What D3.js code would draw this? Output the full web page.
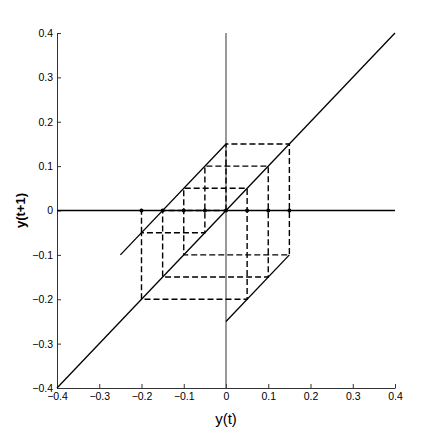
<!DOCTYPE html>
<html lang="en">
<head>
  <meta charset="UTF-8">
  <title>Cobweb - piecewise map</title>
  <script src="https://cdn.jsdelivr.net/npm/d3@7"></script>
  <style>
    body { margin: 0; background: #fff; }
    text { font-family: "Liberation Sans", Arial, sans-serif; }
    .tick text { font-size: 10.5px; }
  </style>
</head>
<body>
<div id="chart"></div>
<script>
  // tick values
  var xTicks = [-0.4, -0.3, -0.2, -0.1, 0, 0.1, 0.2, 0.3, 0.4];
  var yTicks = [-0.4, -0.3, -0.2, -0.1, 0, 0.1, 0.2, 0.3, 0.4];

  // map branches: y(t+1) = y(t)+0.15 for y<0, y(t)-0.25 for y>0
  var upperBranch = [[-0.25, -0.1], [0, 0.15]];
  var lowerBranch = [[0, -0.25], [0.15, -0.1]];
  var diagonal = [[-0.4, -0.4], [0.4, 0.4]];

  // periodic orbit visited by the cobweb
  var orbit = [0, 0.15, -0.1, 0.05, -0.2, -0.05, 0.1, -0.15, 0];

  // dots on y=0
  var dotsX = [-0.2, -0.15, -0.1, -0.05, 0, 0.05, 0.1, 0.15];

  var W = 436, H = 436;
  var margin = {top: 33, right: 41, bottom: 48, left: 57};

  var svg = d3.select("#chart").append("svg")
      .attr("width", W).attr("height", H);

  var x = d3.scaleLinear().domain([-0.4, 0.4]).range([margin.left, W - margin.right]);
  var y = d3.scaleLinear().domain([-0.4, 0.4]).range([H - margin.bottom, margin.top]);

  var fmt = function(d) { return d === 0 ? "0" : d3.format(".1f")(d).replace("-", "\u2212"); };

  // axes (MATLAB style, ticks inside)
  svg.append("g")
      .attr("class", "x axis")
      .attr("transform", "translate(0," + y(-0.4) + ")")
      .call(d3.axisBottom(x).tickValues(xTicks).tickFormat(fmt).tickSizeInner(-4).tickSizeOuter(0).tickPadding(5));
  svg.append("g")
      .attr("class", "y axis")
      .attr("transform", "translate(" + x(-0.4) + ",0)")
      .call(d3.axisLeft(y).tickValues(yTicks).tickFormat(fmt).tickSizeInner(-4).tickSizeOuter(0).tickPadding(4));
  svg.selectAll(".axis path, .axis line").attr("stroke", "#333");
  svg.selectAll(".axis text").attr("fill", "#000");

  var line = d3.line().x(d => x(d[0])).y(d => y(d[1]));

  // vertical line at x=0
  svg.append("path").attr("d", line([[0, -0.4], [0, 0.4]]))
      .attr("stroke", "#555").attr("stroke-width", 1.2).attr("fill", "none");

  // cobweb
  var web = [];
  for (var i = 0; i < orbit.length - 1; i++) {
      web.push([orbit[i], orbit[i]]);
      web.push([orbit[i], orbit[i + 1]]);
  }
  web.push([orbit[orbit.length - 1], orbit[orbit.length - 1]]);
  svg.append("path").attr("d", line(web))
      .attr("stroke", "#000").attr("stroke-width", 1.4).attr("fill", "none")
      .attr("stroke-dasharray", "6,3");
  // extension from -0.05 up to 0 at x=-0.2
  svg.append("path").attr("d", line([[-0.2, -0.05], [-0.2, 0]]))
      .attr("stroke", "#000").attr("stroke-width", 1.4).attr("fill", "none")
      .attr("stroke-dasharray", "6,3");

  // solid lines
  [[[-0.4, 0], [0.4, 0]], diagonal, upperBranch, lowerBranch].forEach(function(seg) {
      svg.append("path").attr("d", line(seg))
          .attr("stroke", "#000").attr("stroke-width", 1.3).attr("fill", "none");
  });

  svg.selectAll("circle.dot").data(dotsX).enter().append("circle")
      .attr("class", "dot")
      .attr("cx", d => x(d)).attr("cy", y(0)).attr("r", 2)
      .attr("fill", "#000");

  // labels
  svg.append("text")
      .attr("x", x(0)).attr("y", 424)
      .attr("text-anchor", "middle")
      .attr("font-size", 15)
      .text("y(t)");
  svg.append("text")
      .attr("transform", "translate(25," + y(0) + ") rotate(-90)")
      .attr("text-anchor", "middle")
      .attr("font-size", 13)
      .attr("font-weight", "bold")
      .text("y(t+1)");
</script>
</body>
</html>
